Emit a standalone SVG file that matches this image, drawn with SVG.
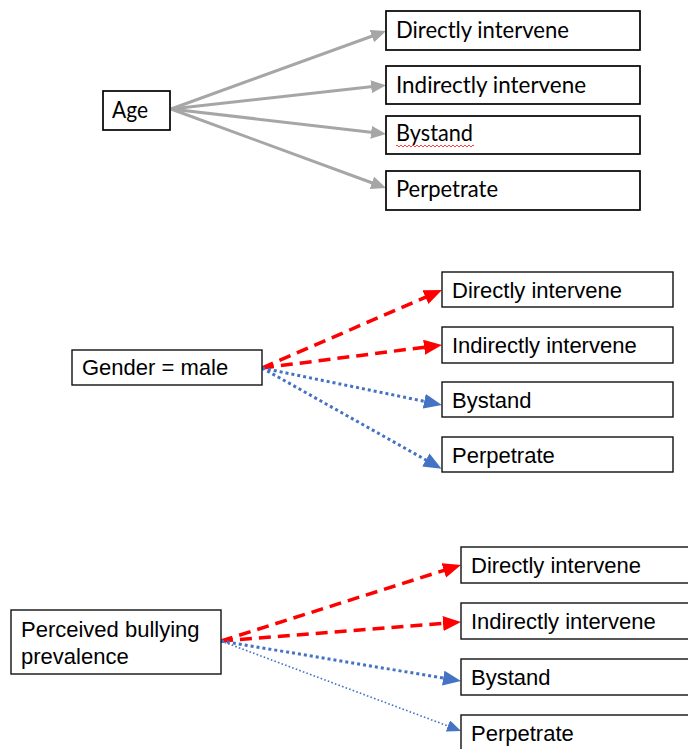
<svg xmlns="http://www.w3.org/2000/svg" width="688" height="749" viewBox="0 0 688 749">
  <style>
    .box { fill: #ffffff; stroke: #111111; stroke-width: 1.4; }
    .box-top { fill: #ffffff; stroke: #000000; stroke-width: 1.7; }
    .cal { font-family: "Lato", "Open Sans", sans-serif; font-size: 23px; fill: #000000; }
    .ari { font-family: "Liberation Sans", Arial, sans-serif; font-size: 22px; fill: #000000; }
    .gray { stroke: #a6a6a6; stroke-width: 3; fill: none; }
    .red { stroke: #ff0000; stroke-width: 3.5; fill: none; stroke-dasharray: 12 7; }
    .blue { stroke: #4472c4; stroke-width: 3; fill: none; stroke-dasharray: 3 3; }
    .blue-thin { stroke: #4472c4; stroke-width: 1.6; fill: none; stroke-dasharray: 1.6 2.2; }
  </style>
  <defs>
    <marker id="ah-gray" markerUnits="userSpaceOnUse" markerWidth="16" markerHeight="14" refX="2" refY="6.5" orient="auto">
      <path d="M0,0 L15,6.5 L0,13 z" fill="#a6a6a6"/>
    </marker>
    <marker id="ah-red" markerUnits="userSpaceOnUse" markerWidth="19" markerHeight="16" refX="2" refY="7.5" orient="auto">
      <path d="M0,0 L18,7.5 L0,15 z" fill="#ff0000"/>
    </marker>
    <marker id="ah-blue" markerUnits="userSpaceOnUse" markerWidth="19" markerHeight="16" refX="2" refY="7.5" orient="auto">
      <path d="M0,0 L18,7.5 L0,15 z" fill="#4472c4"/>
    </marker>
    <marker id="ah-blue-sm" markerUnits="userSpaceOnUse" markerWidth="15" markerHeight="13" refX="2" refY="6" orient="auto">
      <path d="M0,0 L14,6 L0,12 z" fill="#4472c4"/>
    </marker>
  </defs>

  <!-- connectors -->
  <g id="connectors">
    <!-- Age -->
    <line class="gray" x1="171" y1="109" x2="373.8" y2="35.5" marker-end="url(#ah-gray)"/>
    <line class="gray" x1="171" y1="109" x2="373.1" y2="86.6" marker-end="url(#ah-gray)"/>
    <line class="gray" x1="171" y1="109" x2="373.1" y2="132.5" marker-end="url(#ah-gray)"/>
    <line class="gray" x1="171" y1="109" x2="373.8" y2="183.5" marker-end="url(#ah-gray)"/>
    <!-- Gender = male -->
    <line class="red" x1="262" y1="368" x2="427.3" y2="296.4" marker-end="url(#ah-red)"/>
    <line class="red" x1="262" y1="368" x2="426.1" y2="347.0" marker-end="url(#ah-red)"/>
    <line class="blue" x1="262" y1="368" x2="426.2" y2="401.7" marker-end="url(#ah-blue)"/>
    <line class="blue" x1="262" y1="368" x2="427.6" y2="460.9" marker-end="url(#ah-blue)"/>
    <!-- Perceived bullying prevalence -->
    <line class="red" x1="221" y1="641" x2="445.7" y2="569.8" marker-end="url(#ah-red)"/>
    <line class="red" x1="221" y1="641" x2="445.0" y2="623.3" marker-end="url(#ah-red)"/>
    <line class="blue" x1="221" y1="641" x2="445.2" y2="678.4" marker-end="url(#ah-blue)"/>
    <line class="blue-thin" x1="221" y1="641" x2="449.8" y2="726.7" marker-end="url(#ah-blue-sm)"/>
  </g>

  <!-- group 1: age -->
  <g id="age">
    <rect class="box-top" x="103" y="91" width="67" height="39"/>
    <text class="cal" x="112" y="118" textLength="36" lengthAdjust="spacingAndGlyphs">Age</text>
  </g>
  <g id="age-direct">
    <rect class="box-top" x="386" y="11" width="254" height="39"/>
    <text class="cal" x="396" y="38" textLength="173" lengthAdjust="spacingAndGlyphs">Directly intervene</text>
  </g>
  <g id="age-indirect">
    <rect class="box-top" x="386" y="66" width="254" height="38"/>
    <text class="cal" x="396" y="93" textLength="190" lengthAdjust="spacingAndGlyphs">Indirectly intervene</text>
  </g>
  <g id="age-bystand">
    <rect class="box-top" x="386" y="116" width="254" height="38"/>
    <text class="cal" x="396" y="141" textLength="77" lengthAdjust="spacingAndGlyphs">Bystand</text>
    <path d="M396,146 q1,-2 2,0 t2,0 t2,0 t2,0 t2,0 t2,0 t2,0 t2,0 t2,0 t2,0 t2,0 t2,0 t2,0 t2,0 t2,0 t2,0 t2,0 t2,0 t2,0 t2,0 t2,0 t2,0 t2,0 t2,0 t2,0 t2,0 t2,0 t2,0 t2,0 t2,0 t2,0 t2,0 t2,0 t2,0 t2,0 t2,0 t2,0 t2,0 t2,0" fill="none" stroke="#ff4040" stroke-width="1"/>
  </g>
  <g id="age-perpetrate">
    <rect class="box-top" x="386" y="171" width="254" height="39"/>
    <text class="cal" x="396" y="197" textLength="102" lengthAdjust="spacingAndGlyphs">Perpetrate</text>
  </g>

  <!-- group 2: gender -->
  <g id="gender">
    <rect class="box" x="72" y="350" width="190" height="35"/>
    <text class="ari" x="82" y="375">Gender = male</text>
  </g>
  <g id="gender-direct">
    <rect class="box" x="442" y="272" width="231" height="35"/>
    <text class="ari" x="452" y="298">Directly intervene</text>
  </g>
  <g id="gender-indirect">
    <rect class="box" x="442" y="327" width="231" height="36"/>
    <text class="ari" x="452" y="353">Indirectly intervene</text>
  </g>
  <g id="gender-bystand">
    <rect class="box" x="442" y="382" width="231" height="35"/>
    <text class="ari" x="452" y="408">Bystand</text>
  </g>
  <g id="gender-perpetrate">
    <rect class="box" x="442" y="437" width="231" height="35"/>
    <text class="ari" x="452" y="463">Perpetrate</text>
  </g>

  <!-- group 3: perceived prevalence -->
  <g id="prevalence">
    <rect class="box" x="11" y="610" width="210" height="64"/>
    <text class="ari" x="21" y="637">Perceived bullying</text>
    <text class="ari" x="21" y="664">prevalence</text>
  </g>
  <g id="prev-direct">
    <rect class="box" x="461" y="547" width="240" height="36"/>
    <text class="ari" x="471" y="573">Directly intervene</text>
  </g>
  <g id="prev-indirect">
    <rect class="box" x="461" y="603" width="240" height="36"/>
    <text class="ari" x="471" y="629">Indirectly intervene</text>
  </g>
  <g id="prev-bystand">
    <rect class="box" x="461" y="659" width="240" height="36"/>
    <text class="ari" x="471" y="685">Bystand</text>
  </g>
  <g id="prev-perpetrate">
    <rect class="box" x="461" y="715" width="240" height="36"/>
    <text class="ari" x="471" y="741">Perpetrate</text>
  </g>
</svg>
